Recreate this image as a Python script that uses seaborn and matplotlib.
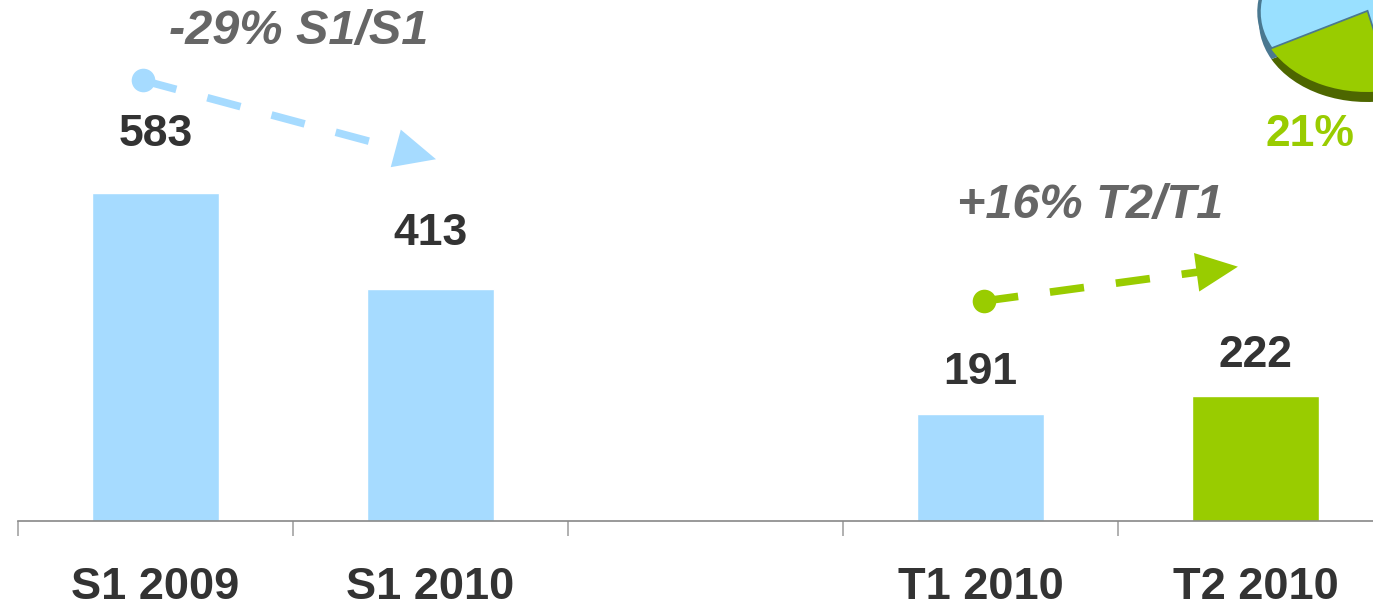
import numpy as np
import pandas as pd
import matplotlib
matplotlib.use("Agg")
import matplotlib.pyplot as plt
import seaborn as sns

# data
categories = ["S1 2009", "S1 2010", "", "T1 2010", "T2 2010"]
values = [583, 413, np.nan, 191, 222]
bar_colors = ["#a6dbff", "#a6dbff", "#a6dbff", "#a6dbff", "#99cc00"]
growth_labels = ["-29% S1/S1", "+16% T2/T1"]
growth_pairs = [(0, 1), (3, 4)]
pie_share = [21, 79]
pie_label = "21%"

BLUE = "#a6dbff"
GREEN = "#99cc00"
DARK = "#333333"
GREY = "#666666"

sns.set_theme(style="white")
plt.rcParams["font.family"] = ["Liberation Sans", "DejaVu Sans"]

W, H, DPI = 1373, 611, 100
fig = plt.figure(figsize=(W / DPI, H / DPI), dpi=DPI)
ax = fig.add_axes([18 / W, 90 / H, 1375 / W, 521 / H])

df = pd.DataFrame({"cat": categories, "val": values})
sns.barplot(data=df, x="cat", y="val", hue="cat", order=categories,
            palette=dict(zip(categories, bar_colors)), width=0.46,
            legend=False, saturation=1, ax=ax)

ax.set_xlim(-0.5, 4.5)
ax.set_ylim(0, 926)
ax.set_xlabel("")
ax.set_ylabel("")
ax.set_yticks([])
for s in ["left", "right", "top"]:
    ax.spines[s].set_visible(False)
ax.spines["bottom"].set_color("#888888")
ax.spines["bottom"].set_linewidth(1.2)

ax.set_xticks(range(len(categories)))
ax.set_xticklabels(categories, fontsize=32.5, fontweight="bold", color=DARK)
ax.tick_params(axis="x", which="major", bottom=False, length=0, pad=33)
ax.set_xticks(np.arange(-0.5, len(categories), 1.0), minor=True)
ax.tick_params(axis="x", which="minor", bottom=True, length=11, width=1.3,
               color="#aaaaaa", direction="out")

# value labels above the bars
label_pad = [58, 55, 0, 41, 41]
for i, v in enumerate(values):
    if np.isnan(v):
        continue
    ax.text(i, v + label_pad[i] / 0.5626, f"{v:.0f}", ha="center",
            va="center", fontsize=32, fontweight="bold", color=DARK)

# growth arrows
arrow_colors = [BLUE, GREEN]
start_dx = [-0.045, 0.013]
end_dx = [0.02, -0.064]
text_pos = [(0.52, 926 - 31 / 0.5626), (3.40, 926 - 205 / 0.5626)]
for k, ((a, b), txt, col, tp) in enumerate(zip(growth_pairs, growth_labels,
                                               arrow_colors, text_pos)):
    x0, y0 = a + start_dx[k], values[a] + 200
    x1, y1 = b + end_dx[k], values[b] + 230
    # stop the dashed line at the base of the head
    x_end = x0 + (x1 - x0) * 0.86
    y_end = y0 + (y1 - y0) * 0.86
    ax.plot([x0, x_end], [y0, y_end], color=col, lw=5.5,
            dashes=(4.5, 4.2), solid_capstyle="butt", dash_capstyle="butt")
    ax.plot([x0], [y0], "o", color=col, ms=17, mew=0)
    ax.annotate("", xy=(x1, y1), xytext=(x0, y0),
                arrowprops=dict(arrowstyle="-|>,head_length=1.5,head_width=0.7",
                                color=col, lw=0, mutation_scale=20,
                                shrinkA=0, shrinkB=0))
    ax.text(tp[0], tp[1], txt, ha="center", va="center", fontsize=35,
            fontweight="bold", fontstyle="italic", color=GREY)

# cropped 3d pie in the top right corner
cx, cy, rx, ry = 1367, 12, 108, 80
depth = 10
start = 207.7
pax_d = fig.add_axes([(cx - rx) / W, (H - cy - ry - depth) / H, 2 * rx / W, 2 * ry / H])
pax_d.pie(pie_share, colors=["#4d6600", "#4a7890"], startangle=start,
          counterclock=True, wedgeprops=dict(linewidth=0))
pax_d.set_aspect("auto")
pax_d.set_xlim(-1, 1)
pax_d.set_ylim(-1, 1)
pax_d.axis("off")
pax = fig.add_axes([(cx - rx) / W, (H - cy - ry) / H, 2 * rx / W, 2 * ry / H])
wedges, _ = pax.pie(pie_share, colors=[GREEN, "#99e0ff"], startangle=start,
                    counterclock=True, wedgeprops=dict(linewidth=0))
wedges[1].set_edgecolor("#4a7890")
wedges[1].set_linewidth(2.5)
wedges[0].set_zorder(3)
pax.set_aspect("auto")
pax.set_xlim(-1, 1)
pax.set_ylim(-1, 1)
pax.axis("off")
fig.text(1310 / W, 1 - 135 / H, pie_label, ha="center", va="center",
         fontsize=32, fontweight="bold", color=GREEN)

fig.savefig("out.png", dpi=DPI)
